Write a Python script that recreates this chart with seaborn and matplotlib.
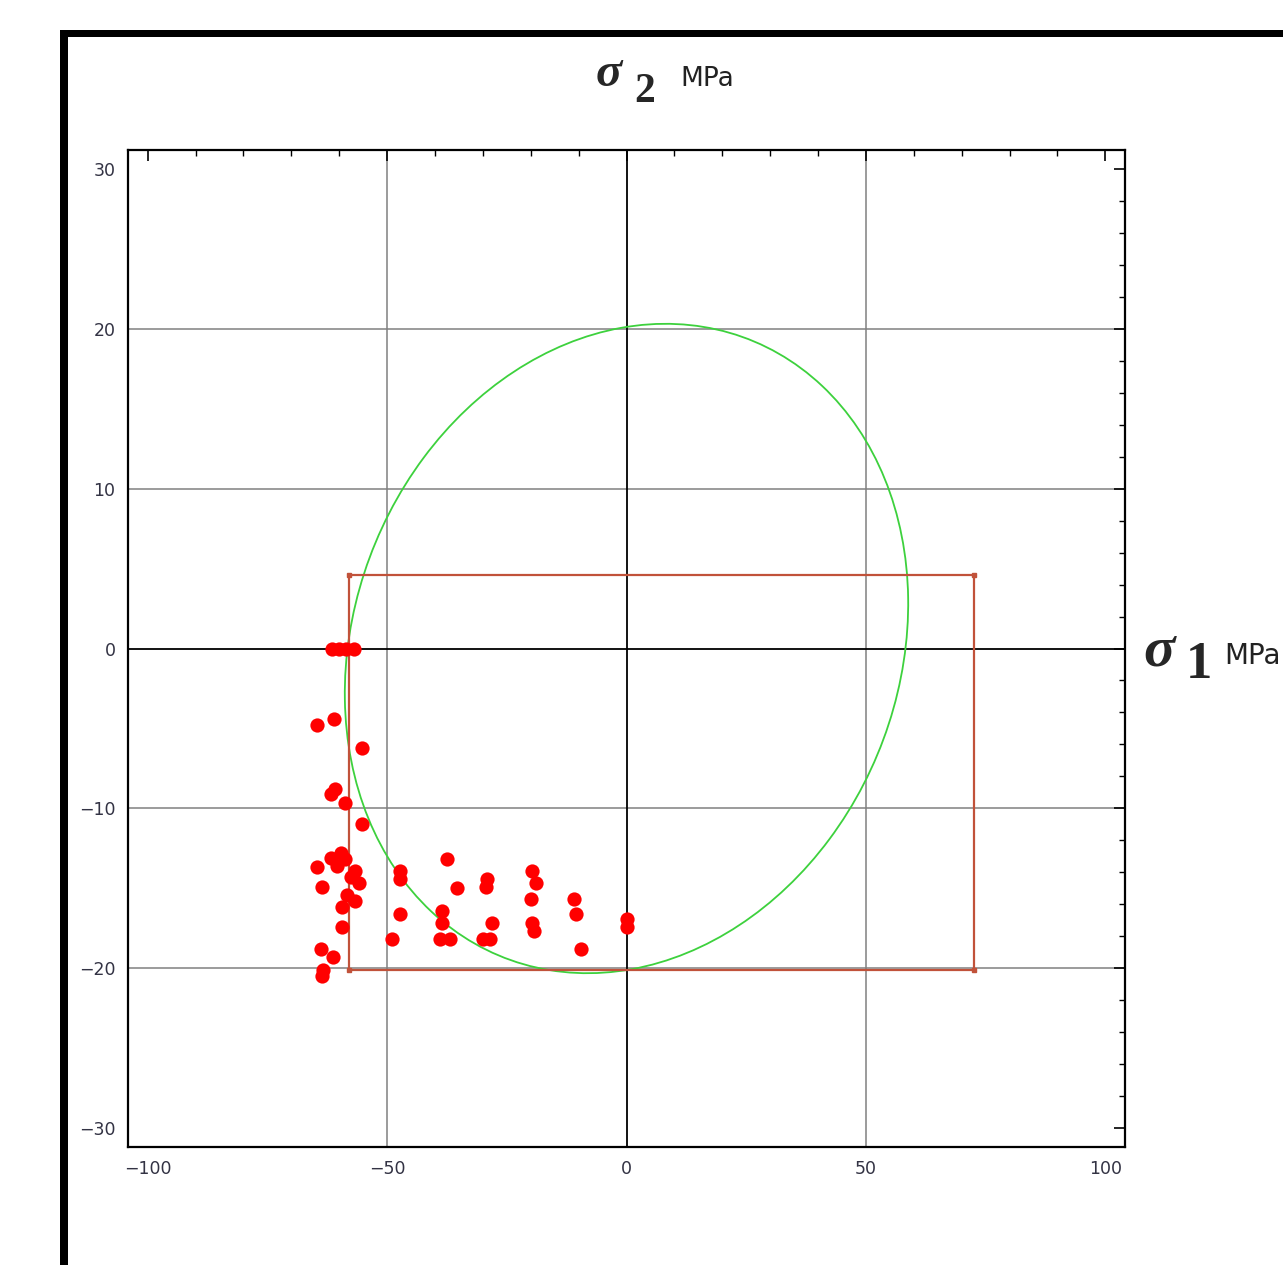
import matplotlib
matplotlib.use("Agg")
import matplotlib.pyplot as plt
import seaborn as sns
import pandas as pd
from matplotlib.patches import Ellipse, Rectangle
from matplotlib.ticker import MultipleLocator

# ------------------------------
# data
# ------------------------------
sigma1 = [-61.5, -60.0, -58.5, -57.0,
          -64.6, -61.1, -55.2,
          -61.8, -60.8, -58.7, -55.2,
          -64.6, -61.8, -59.7, -58.7, -60.5, -57.5, -63.5, -56.6, -55.9,
          -58.3, -56.6, -59.4, -59.4, -63.9, -61.2, -63.3, -63.5,
          -37.4, -47.2, -47.2, -35.3, -29.1, -29.4, -47.2, -38.5, -38.5,
          -28.0, -48.9, -39.0, -36.8, -29.9, -28.5,
          -19.7, -19.0, -20.0, -19.7, -19.4, -11.0, -10.6, -9.6, 0.0, 0.0]
sigma2 = [0.0, 0.0, 0.0, 0.0,
          -4.8, -4.4, -6.2,
          -9.1, -8.8, -9.7, -11.0,
          -13.7, -13.1, -12.8, -13.2, -13.6, -14.3, -14.9, -13.9, -14.7,
          -15.4, -15.8, -16.2, -17.4, -18.8, -19.3, -20.1, -20.5,
          -13.2, -13.9, -14.4, -15.0, -14.4, -14.9, -16.6, -16.4, -17.2,
          -17.2, -18.2, -18.2, -18.2, -18.2, -18.2,
          -13.9, -14.7, -15.7, -17.2, -17.7, -15.7, -16.6, -18.8, -16.9, -17.4]

# failure envelope (ellipse) and max-stress box
ell_center = (0.0, 0.0)
ell_width = 117.8
ell_height = 40.2
ell_angle = 3.1
box_x = [-58.0, 72.6]
box_y = [-20.1, 4.6]

x_ticks = [-100, -50, 0, 50, 100]
y_ticks = [-30, -20, -10, 0, 10, 20, 30]
x_grid = [-50, 50]
y_grid = [-20, -10, 10, 20]

df = pd.DataFrame({"s1": sigma1, "s2": sigma2})

W, H = 1283, 1265
sns.set_style("white")
fig = plt.figure(figsize=(W / 100, H / 100), dpi=100)
ax = fig.add_axes([128 / W, 1 - 1147 / H, (1125 - 128) / W, (1147 - 150) / H])

# grid + zero axes
for gx in x_grid:
    ax.axvline(gx, color="#808080", lw=1.1, zorder=0)
for gy in y_grid:
    ax.axhline(gy, color="#808080", lw=1.1, zorder=0)
ax.axvline(0, color="black", lw=1.3, zorder=0)
ax.axhline(0, color="black", lw=1.3, zorder=0)

ax.add_patch(Ellipse(ell_center, ell_width, ell_height, angle=ell_angle,
                     fill=False, edgecolor="#3dd13d", lw=1.3, zorder=2))
ax.add_patch(Rectangle((box_x[0], box_y[0]), box_x[1] - box_x[0], box_y[1] - box_y[0],
                       fill=False, edgecolor="#c1523a", lw=1.6, zorder=3))
ax.plot([box_x[0], box_x[1], box_x[0], box_x[1]], [box_y[0], box_y[0], box_y[1], box_y[1]],
        ls="none", marker="s", ms=3, color="#c1523a", zorder=3)

sns.scatterplot(data=df, x="s1", y="s2", ax=ax, color="#ff0000", s=105,
                marker="o", edgecolor="#ff0000", linewidth=0, zorder=4)

ax.set_xlim(-104.1, 104.1)
ax.set_ylim(-31.2, 31.2)
ax.set_xlabel("")
ax.set_ylabel("")
ax.set_xticks(x_ticks)
ax.set_yticks(y_ticks)
ax.xaxis.set_minor_locator(MultipleLocator(10))
ax.yaxis.set_minor_locator(MultipleLocator(2))
ax.tick_params(which="both", direction="in", top=True, right=True,
               labeltop=False, labelright=False, color="black")
ax.tick_params(which="major", length=8, width=1.2, labelsize=12.5,
               labelcolor="#333344", pad=9)
ax.tick_params(which="minor", length=4, width=1.0)
for sp in ax.spines.values():
    sp.set_color("black")
    sp.set_linewidth(1.6)

# outer black frame (left + top only)
fig.add_artist(Rectangle((60 / W, 0), 8 / W, 1 - 30 / H, transform=fig.transFigure,
                         color="black", lw=0))
fig.add_artist(Rectangle((60 / W, 1 - 37 / H), 1 - 60 / W, 7 / H, transform=fig.transFigure,
                         color="black", lw=0))

# axis titles: sigma, index, unit (pixel positions of the baselines)
def label(xs, ys, s_size, num, xn, yn, n_size, xu, yu, u_size):
    fig.text(xs / W, 1 - ys / H, "σ", family="Liberation Serif", weight="bold",
             style="italic", fontsize=s_size, ha="left", va="baseline")
    fig.text(xn / W, 1 - yn / H, num, family="Liberation Serif",
             weight="bold", fontsize=n_size, ha="left", va="baseline")
    fig.text(xu / W, 1 - yu / H, "MPa", family="DejaVu Sans",
             fontsize=u_size, ha="left", va="baseline", color="#222222")

label(596, 86, 35, "2", 634, 102, 30, 680, 86, 19)
label(1143, 666, 42, "1", 1186, 678, 38, 1224, 664, 20)

fig.savefig("out.png", dpi=100, facecolor="white")
